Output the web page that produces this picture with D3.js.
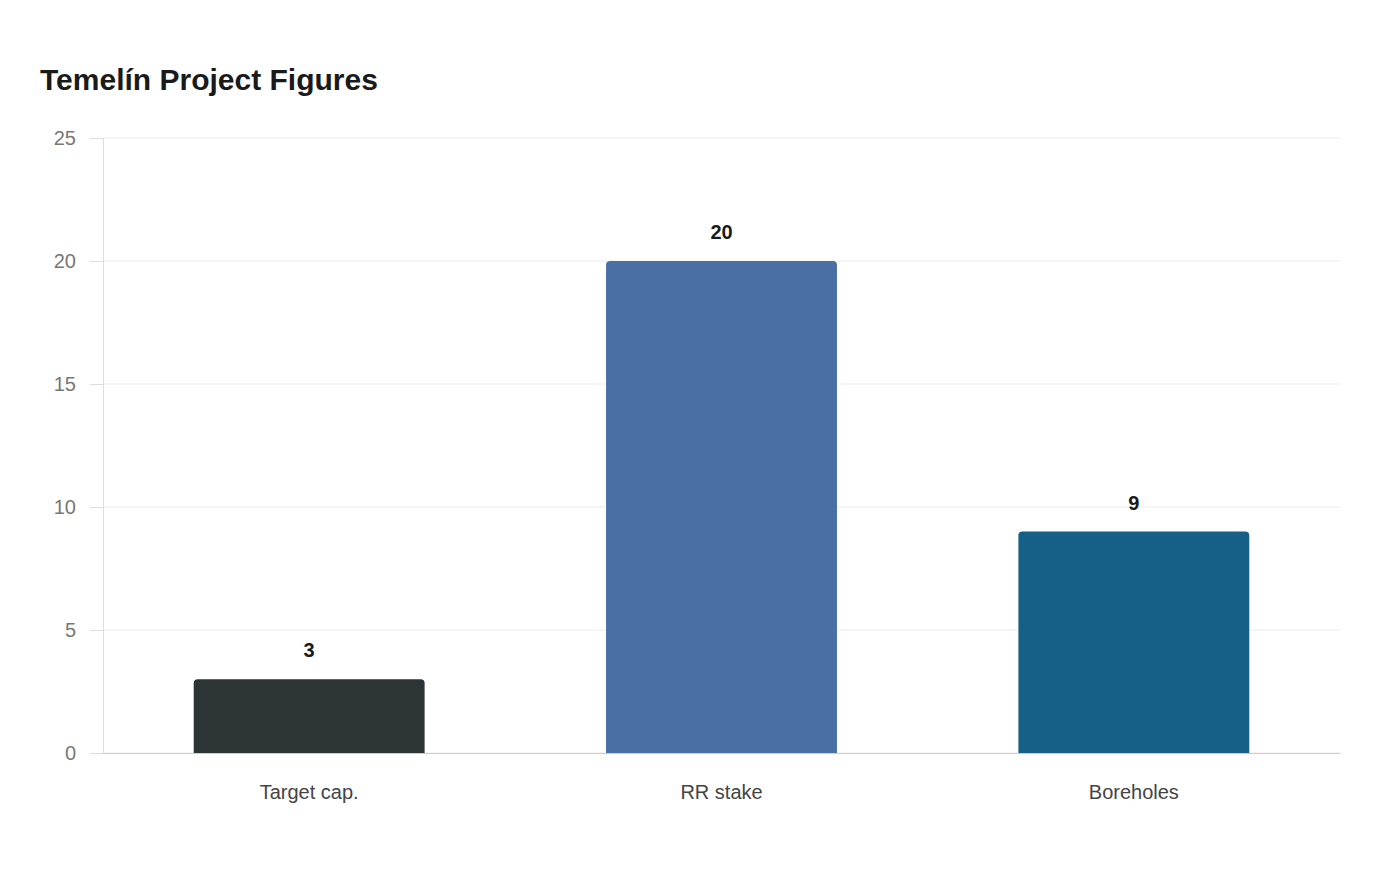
<!DOCTYPE html>
<html><head><meta charset="utf-8">
<script src="https://cdn.jsdelivr.net/npm/d3@7"></script>
<style>body{margin:0;background:#fff;font-family:"Liberation Sans",Arial,sans-serif;}</style>
</head><body><div id="chart"></div>
<script>
const categories = ["Target cap.", "RR stake", "Boreholes"];
const values = [3, 20, 9];
const colors = ["#2d3436", "#4a6fa5", "#166088"];
const yTicks = [0, 5, 10, 15, 20, 25];

const margin = {top: 138, right: 60, bottom: 127, left: 103},
    width = 1400 - margin.left - margin.right,
    height = 880 - margin.top - margin.bottom;

const svg = d3.select("#chart").append("svg")
    .attr("width", 1400).attr("height", 880);

svg.append("text").attr("x", 40).attr("y", 90)
    .attr("font-size", 30).attr("font-weight", "bold").attr("fill", "#1a1a1a")
    .text("Temelín Project Figures");

const g = svg.append("g").attr("transform", `translate(${margin.left},${margin.top})`);

const x = d3.scaleBand().domain(categories).range([0, width]).paddingInner(0.44).paddingOuter(0.22);
const y = d3.scaleLinear().domain([0, 25]).range([height, 0]);

// grid
g.selectAll("line.grid").data(yTicks).enter().append("line")
    .attr("x1", 0).attr("x2", width)
    .attr("y1", d => y(d)).attr("y2", d => y(d))
    .attr("stroke", "#ebebeb").attr("stroke-width", 1);

// y axis
const yAxis = g.append("g").call(d3.axisLeft(y).tickValues(yTicks).tickSize(13).tickPadding(14));
yAxis.select(".domain").attr("stroke", "#ddd");
yAxis.selectAll(".tick line").attr("stroke", "#ddd");
yAxis.selectAll("text").attr("font-size", 20).attr("fill", "#777").attr("font-family", "Liberation Sans, Arial, sans-serif");

// x axis
const xAxis = g.append("g").attr("transform", `translate(0,${height})`)
    .call(d3.axisBottom(x).tickSize(0).tickPadding(32));
xAxis.select(".domain").attr("stroke", "#ccc");
xAxis.selectAll("text").attr("font-size", 20).attr("fill", "#444").attr("font-family", "Liberation Sans, Arial, sans-serif");

// bars with rounded top corners
const r = 4;
g.selectAll("path.bar").data(values).enter().append("path")
    .attr("fill", (d, i) => colors[i])
    .attr("d", (d, i) => {
        const x0 = x(categories[i]), w = x.bandwidth(), y0 = y(d), y1 = y(0);
        return `M${x0},${y1}V${y0 + r}Q${x0},${y0} ${x0 + r},${y0}H${x0 + w - r}Q${x0 + w},${y0} ${x0 + w},${y0 + r}V${y1}Z`;
    });

g.selectAll("text.val").data(values).enter().append("text")
    .attr("x", (d, i) => x(categories[i]) + x.bandwidth() / 2)
    .attr("y", d => y(d) - 22)
    .attr("text-anchor", "middle").attr("font-size", 20).attr("font-weight", "bold").attr("fill", "#1a1a1a")
    .text(d => d);
</script></body></html>
